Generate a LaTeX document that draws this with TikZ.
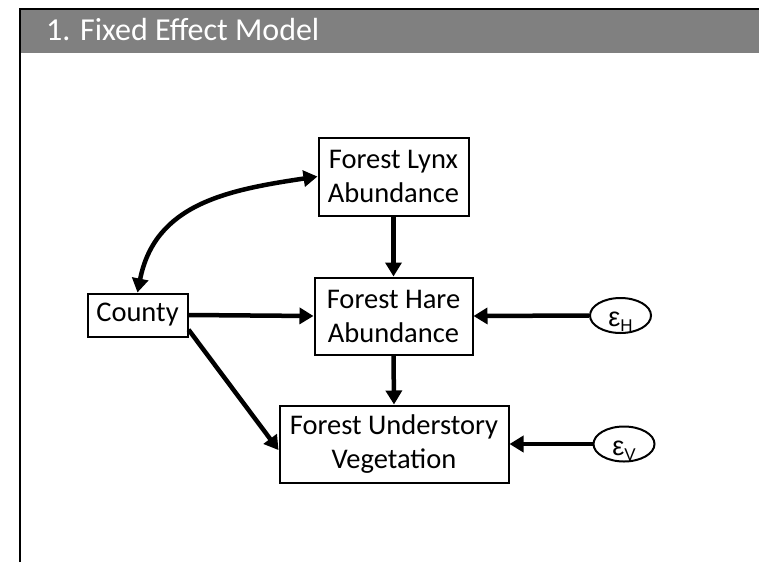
\documentclass[tikz,border=0pt]{standalone}
\usepackage{fontspec}
\setmainfont{Carlito}
\newfontfamily\symfont{Liberation Sans}
\usetikzlibrary{arrows.meta,shapes.geometric,calc}
\begin{document}
\begin{tikzpicture}[x=1pt,y=-1pt,
  box/.style={draw,line width=2pt,inner sep=0pt,align=center,
    font=\fontsize{28.5}{34}\selectfont},
  err/.style={draw,ellipse,line width=2pt,inner sep=0pt,
    minimum width=61pt,minimum height=35pt,
    text height=22pt,text depth=0pt,font=\symfont\fontsize{27}{27}\selectfont},
  link/.style={line width=4.5pt,-{Triangle[length=14pt,width=16pt]}},
  both/.style={line width=4.5pt,{Triangle[length=14pt,width=16pt]}-{Triangle[length=14pt,width=16pt]}},
]
\useasboundingbox (0,0) rectangle (759,562);

% slide frame and title bar
\fill[black!50] (21,10) rectangle (759,53);
\draw[line width=2pt] (20,562) -- (20,9) -- (759,9);
\node[anchor=base west,inner sep=0pt,text=white,font=\fontsize{32}{32}\selectfont]
  (title) at (46,40) {1. Fixed Effect Model};

% variables
\node[box,minimum width=150pt,minimum height=78pt] (lynx) at (393.5,176.5) {Forest Lynx\\Abundance};
\node[box,minimum width=158pt,minimum height=77pt] (hare) at (393.5,316) {Forest Hare\\Abundance};
\node[box,minimum width=100pt,minimum height=43pt] (county) at (137.5,315) {County};
\node[box,minimum width=229pt,minimum height=77pt] (under) at (394,444) {Forest Understory\\Vegetation};

% error terms
\node[err] (eh) at (620.5,315.5) {ε\raisebox{-5pt}{\fontsize{17}{17}\selectfont H}};
\node[err] (ev) at (624,444) {ε\raisebox{-5pt}{\fontsize{17}{17}\selectfont V}};

% paths
\draw[both] (county.north) .. controls (155,204) and (227,190) .. (lynx.west);
\draw[link] (lynx.south) -- (hare.north);
\draw[link] (hare.south) -- (under.north);
\draw[link] (county.east) -- (hare.west);
\draw[link] (county.-16) -- (under.183);
\draw[link] (eh.west) -- (hare.east);
\draw[link] (ev.west) -- (under.east);
\end{tikzpicture}
\end{document}
